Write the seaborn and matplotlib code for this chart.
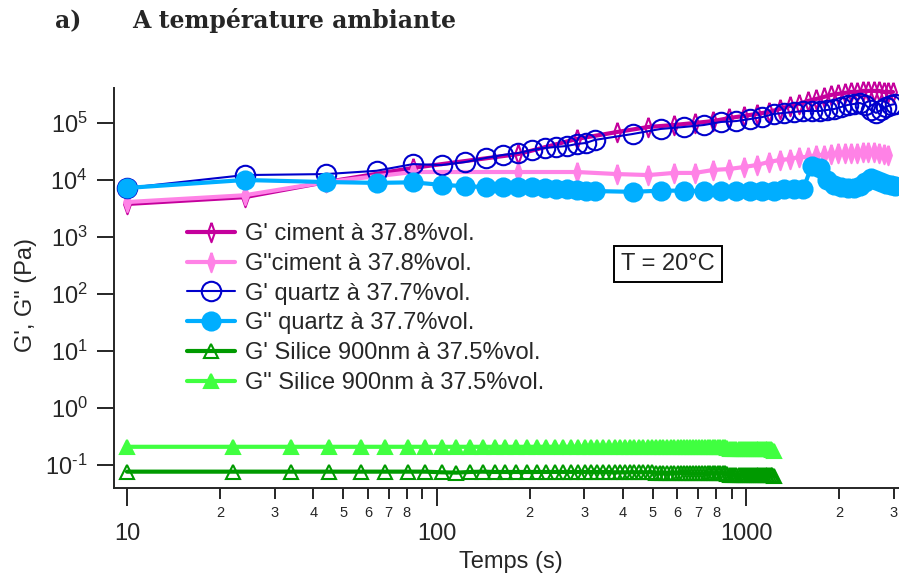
import numpy as np
import matplotlib.pyplot as plt
import matplotlib.ticker as mticker
import seaborn as sns

# temps (s) et modules G', G" (Pa)
t_ciment = [10, 24, 44, 84, 184, 284, 384, 484, 584, 684, 784, 884, 984, 1084, 1184,
            1284, 1384, 1484, 1584, 1684, 1784, 1884, 1984, 2084, 2184, 2284, 2384,
            2484, 2584, 2684, 2784, 2884, 2984]
gp_ciment = [3800, 5000, 9200, 16300, 28500, 52500, 69500, 85000, 92000, 100000,
             108000, 122000, 133000, 144000, 156000, 176000, 199000, 215000, 243000,
             263000, 286000, 310000, 323000, 336000, 350000, 350000, 365000, 365000,
             365000, 365000, 350000, 350000, 350000]
gs_ciment = [4100, 5400, 9200, 13800, 13800, 13800, 12700, 12200, 13300, 13300,
             15000, 15600, 16900, 18300, 20700, 22400, 23300, 25300, 25300, 27500,
             27500, 28600, 29800, 29800, 29800, 29800, 31000, 31000, 31000, 29800,
             29000, 27500]

t_quartz = [10, 24, 44, 64, 84, 104, 124, 144, 164, 184, 204, 224, 244, 264, 284, 304,
            324, 430, 530, 630, 730, 830, 930, 1030, 1130, 1230, 1330, 1430, 1530,
            1630, 1730, 1830, 1930, 2030, 2130, 2230, 2330, 2430, 2530, 2630, 2730,
            2830, 2930, 3030]
gp_quartz = [7250, 12200, 12700, 14500, 19000, 18300, 20700, 24300, 27500, 29800,
             33600, 36400, 38000, 39500, 42800, 44600, 50300, 64000, 78500, 85000,
             92000, 104000, 108000, 117000, 127000, 144000, 150000, 156000, 162000,
             162000, 162000, 169000, 176000, 191000, 207000, 215000, 224000, 207000,
             169000, 150000, 169000, 191000, 207000, 215000]
gs_quartz = [7250, 10000, 9200, 8900, 9100, 8200, 7800, 7500, 7500, 7500, 7400, 7200,
             7000, 7000, 6600, 6500, 6400, 6200, 6500, 6500, 6400, 6400, 6400, 6400,
             6400, 6500, 7000, 7000, 7000, 17500, 16500, 10000, 8200, 7600, 7300, 7300,
             7800, 9200, 10800, 10000, 9200, 8500, 8200, 7800]

t_silice = [10, 22, 34, 45, 57, 68, 81, 92, 104, 116, 128, 141, 154, 167, 181, 196, 211,
            226, 241, 256, 271, 286, 301, 316, 331, 346, 361, 376, 391, 406, 421, 436,
            451, 466, 481, 496, 511, 526, 541, 556, 571, 586, 601, 616, 631, 646, 661,
            676, 691, 706, 721, 736, 751, 766, 781, 796, 811, 826, 841, 856, 871, 886,
            901, 916, 931, 946, 961, 976, 991, 1006, 1021, 1036, 1051, 1066, 1081, 1096,
            1111, 1126, 1141, 1156, 1171, 1186, 1201, 1216, 1231]
gp_silice = [0.077, 0.077, 0.077, 0.077, 0.077, 0.077, 0.077, 0.077, 0.075, 0.074,
             0.076, 0.077, 0.076, 0.076, 0.076, 0.076, 0.076, 0.076, 0.076, 0.076,
             0.076, 0.076, 0.076, 0.076, 0.076, 0.076, 0.076, 0.075, 0.075, 0.075,
             0.075, 0.075, 0.075, 0.075, 0.075, 0.075, 0.073, 0.073, 0.073, 0.073,
             0.073, 0.073, 0.073, 0.073, 0.073, 0.073, 0.072, 0.072, 0.072, 0.072,
             0.072, 0.072, 0.072, 0.072, 0.072, 0.072, 0.072, 0.072, 0.072, 0.072,
             0.071, 0.068, 0.068, 0.068, 0.068, 0.068, 0.068, 0.068, 0.068, 0.068,
             0.068, 0.068, 0.068, 0.068, 0.068, 0.068, 0.068, 0.068, 0.068, 0.068,
             0.068, 0.068, 0.067, 0.066, 0.065]
gs_silice = [0.21, 0.21, 0.21, 0.21, 0.21, 0.21, 0.21, 0.21, 0.21, 0.21, 0.21, 0.21,
             0.21, 0.21, 0.21, 0.21, 0.21, 0.21, 0.21, 0.21, 0.21, 0.21, 0.21, 0.21,
             0.21, 0.21, 0.21, 0.21, 0.21, 0.21, 0.21, 0.21, 0.21, 0.21, 0.21, 0.21,
             0.21, 0.21, 0.21, 0.21, 0.21, 0.21, 0.21, 0.21, 0.21, 0.21, 0.21, 0.21,
             0.21, 0.205, 0.205, 0.205, 0.205, 0.205, 0.205, 0.205, 0.205, 0.205,
             0.205, 0.205, 0.2, 0.195, 0.195, 0.195, 0.195, 0.195, 0.195, 0.195,
             0.195, 0.195, 0.195, 0.195, 0.195, 0.195, 0.195, 0.195, 0.195, 0.195,
             0.195, 0.195, 0.195, 0.195, 0.19, 0.185, 0.18]

labels = ["G' ciment à 37.8%vol.", 'G"ciment à 37.8%vol.', "G' quartz à 37.7%vol.",
          'G" quartz à 37.7%vol.', "G' Silice 900nm à 37.5%vol.",
          'G" Silice 900nm à 37.5%vol.']

sns.set_style('ticks')
plt.rcParams['font.family'] = ['Liberation Sans', 'DejaVu Sans']
plt.rcParams['mathtext.fontset'] = 'custom'
plt.rcParams['mathtext.rm'] = 'Liberation Sans'
plt.rcParams['axes.unicode_minus'] = False

fig = plt.figure(figsize=(8.99, 5.8), dpi=100)
ax = fig.add_axes([114 / 899, 92 / 580, 785 / 899, 400 / 580])

# losange étroit pour le ciment
thin = [(0, 1), (0.35, 0), (0, -1), (-0.35, 0), (0, 1)]

series = [
    (t_ciment, gp_ciment, '#C4009C', 3.0, thin, 14, 'none'),
    (t_ciment[:-1], gs_ciment, '#FF82E6', 3.0, thin, 14, 'full'),
    (t_quartz, gp_quartz, '#0000CC', 1.5, 'o', 14, 'none'),
    (t_quartz, gs_quartz, '#00AEFF', 3.0, 'o', 13, 'full'),
    (t_silice, gp_silice, '#009A00', 3.0, '^', 10, 'none'),
    (t_silice, gs_silice, '#40FF40', 3.0, '^', 10, 'full'),
]
for (t, g, col, lw, mk, ms, fill), lab in zip(series, labels):
    sns.lineplot(x=t, y=g, ax=ax, color=col, lw=lw, marker=mk, ms=ms,
                 mec=col, mfc=col if fill == 'full' else 'none', mew=1.5,
                 estimator=None, sort=False, label=lab, clip_on=False)

ax.set_xscale('log')
ax.set_yscale('log')
ax.set_xlim(9.08, 3120)
ax.set_ylim(0.0398, 4.1e5)

ax.xaxis.set_major_locator(mticker.FixedLocator([10, 100, 1000]))
ax.xaxis.set_major_formatter(mticker.FuncFormatter(lambda v, p: f'{v:g}'))
ax.xaxis.set_minor_locator(mticker.LogLocator(base=10, subs=np.arange(2, 10)))


def minor_lab(v, p):
    d = int(round(v / 10 ** np.floor(np.log10(v) + 1e-9)))
    return str(d) if 2 <= d <= 8 else ''


def ylab(v, p):
    e = int(round(np.log10(v)))
    return r'$\mathdefault{10^{\text{%d}}}$' % e


ax.xaxis.set_minor_formatter(mticker.FuncFormatter(minor_lab))
ax.yaxis.set_major_locator(mticker.FixedLocator([0.1, 1, 10, 100, 1e3, 1e4, 1e5]))
ax.yaxis.set_major_formatter(mticker.FuncFormatter(ylab))
ax.yaxis.set_minor_locator(mticker.NullLocator())

ax.tick_params(axis='x', which='major', length=13, width=1.4, pad=12, labelsize=17)
ax.tick_params(axis='x', which='minor', length=8, width=1.4, pad=5, labelsize=10.5)
ax.tick_params(axis='y', which='major', length=12, width=1.4, pad=7, labelsize=17)
sns.despine(ax=ax)
for s in ('left', 'bottom'):
    ax.spines[s].set_linewidth(1.4)

ax.set_xlabel('Temps (s)', fontsize=17)
ax.xaxis.set_label_coords(0.505, -0.158)
ax.set_ylabel('G\', G" (Pa)', fontsize=17)
ax.yaxis.set_label_coords(-0.098, 0.482)

ax.legend(loc='upper left', bbox_to_anchor=(187 / 899, 1 - 223 / 580),
          bbox_transform=fig.transFigure, frameon=False, fontsize=17,
          borderpad=0, borderaxespad=0, handlelength=2.05, handletextpad=0.4,
          labelspacing=0.33)

fig.text(668 / 899, 1 - 264 / 580, 'T = 20°C', fontsize=17, ha='center', va='center',
         bbox=dict(boxstyle='square,pad=0.3', fc='white', ec='black', lw=1.4))

fig.text(55 / 899, 1 - 28 / 580, 'a)', fontsize=17, fontweight='bold',
         family='DejaVu Serif', va='baseline')
fig.text(132 / 899, 1 - 28 / 580, 'A température ambiante', fontsize=17,
         fontweight='bold', family='DejaVu Serif', va='baseline')

fig.savefig('out.png', dpi=100)
